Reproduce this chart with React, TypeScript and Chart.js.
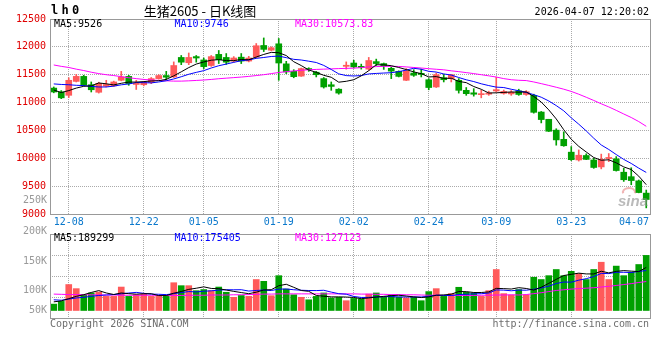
import React, { useEffect, useRef } from 'react';
import { Chart, registerables } from 'chart.js';

Chart.register(...registerables);

// ---------- data ----------
const DATES = [
  '12-04', '12-05', '12-08', '12-09', '12-10', '12-11', '12-12', '12-15', '12-16', '12-17',
  '12-18', '12-19', '12-22', '12-23', '12-24', '12-25', '12-26', '12-29', '12-30', '12-31',
  '01-05', '01-06', '01-07', '01-08', '01-09', '01-12', '01-13', '01-14', '01-15', '01-16',
  '01-19', '01-20', '01-21', '01-22', '01-23', '01-26', '01-27', '01-28', '01-29', '01-30',
  '02-02', '02-03', '02-04', '02-05', '02-06', '02-09', '02-10', '02-11', '02-12', '02-13',
  '02-24', '02-25', '02-26', '02-27', '03-02', '03-03', '03-04', '03-05', '03-06', '03-09',
  '03-10', '03-11', '03-12', '03-13', '03-16', '03-17', '03-18', '03-19', '03-20', '03-23',
  '03-24', '03-25', '03-26', '03-27', '03-30', '03-31', '04-01', '04-02', '04-03', '04-07',
];

const OPEN = [
  11260, 11190, 11130, 11380, 11470, 11320, 11185, 11295, 11300, 11400,
  11470, 11325, 11320, 11360, 11430, 11485, 11460, 11810, 11715, 11825,
  11765, 11665, 11865, 11810, 11745, 11815, 11745, 11815, 12025, 11940,
  12055, 11695, 11560, 11475, 11610, 11545, 11430, 11320, 11240, 11650,
  11710, 11650, 11600, 11735, 11700, 11615, 11560, 11400, 11530, 11525,
  11410, 11280, 11445, 11430, 11400, 11220, 11175, 11142, 11150, 11208,
  11165, 11155, 11210, 11145, 11130, 10830, 10700, 10505, 10340, 10110,
  9970, 10050, 9970, 9845, 9995, 9990, 9750, 9670, 9595, 9375,
];
const HIGH = [
  11280, 11215, 11445, 11505, 11490, 11370, 11365, 11400, 11385, 11560,
  11490, 11400, 11380, 11450, 11500, 11560, 11730, 11845, 11890, 11845,
  11800, 11845, 11935, 11880, 11825, 11880, 11830, 12060, 12160, 12000,
  12150, 11740, 11590, 11620, 11625, 11560, 11450, 11370, 11250, 11730,
  11760, 11690, 11810, 11780, 11710, 11635, 11570, 11610, 11590, 11600,
  11430, 11530, 11505, 11505, 11430, 11270, 11250, 11220, 11205, 11458,
  11225, 11215, 11240, 11215, 11150, 10840, 10700, 10530, 10475, 10210,
  10150, 10080, 10000, 10075, 10085, 10030, 9820, 9830, 9610, 9430,
];
const LOW = [
  11175, 11070, 11090, 11370, 11300, 11190, 11170, 11280, 11290, 11390,
  11310, 11235, 11300, 11340, 11420, 11410, 11450, 11680, 11680, 11725,
  11610, 11650, 11700, 11685, 11730, 11700, 11730, 11800, 11915, 11930,
  11400, 11520, 11445, 11470, 11560, 11460, 11260, 11220, 11150, 11600,
  11620, 11600, 11580, 11665, 11595, 11430, 11460, 11395, 11470, 11460,
  11230, 11270, 11370, 11370, 11170, 11130, 11115, 11085, 11130, 11190,
  11150, 11130, 11130, 11130, 10810, 10635, 10480, 10235, 10215, 9960,
  9950, 9975, 9820, 9810, 9940, 9770, 9585, 9525, 9380, 9110,
];
const CLOSE = [
  11190, 11085, 11400, 11470, 11315, 11230, 11345, 11325, 11370, 11460,
  11340, 11345, 11365, 11430, 11485, 11455, 11665, 11725, 11810, 11800,
  11645, 11825, 11770, 11725, 11800, 11745, 11800, 12020, 11955, 11985,
  11710, 11550, 11465, 11610, 11590, 11500, 11280, 11290, 11170, 11670,
  11640, 11630, 11755, 11700, 11660, 11565, 11470, 11565, 11490, 11505,
  11270, 11500, 11410, 11500, 11220, 11160, 11150, 11160, 11172, 11232,
  11200, 11185, 11145, 11195, 10825, 10695, 10485, 10330, 10225, 9975,
  10055, 9980, 9835, 9980, 10015, 9780, 9615, 9600, 9385, 9260,
];

const MA5 = [
  11225, 11180, 11215, 11260, 11292, 11300, 11352, 11337, 11317, 11346,
  11368, 11368, 11376, 11388, 11393, 11416, 11480, 11552, 11628, 11691,
  11729, 11761, 11770, 11753, 11753, 11773, 11768, 11818, 11864, 11901,
  11894, 11844, 11733, 11664, 11585, 11543, 11489, 11454, 11366, 11382,
  11410, 11480, 11573, 11679, 11677, 11662, 11630, 11592, 11550, 11519,
  11460, 11466, 11435, 11437, 11380, 11358, 11288, 11238, 11172, 11175,
  11183, 11190, 11187, 11191, 11110, 11009, 10869, 10706, 10512, 10342,
  10214, 10113, 10014, 9965, 9973, 9918, 9845, 9798, 9679, 9526,
];
const MA10 = [
  11335, 11325, 11320, 11310, 11305, 11290, 11280, 11280, 11295, 11319,
  11334, 11360, 11357, 11353, 11370, 11392, 11424, 11464, 11508, 11542,
  11573, 11621, 11661, 11691, 11722, 11751, 11765, 11794, 11809, 11827,
  11834, 11806, 11776, 11764, 11743, 11719, 11667, 11594, 11515, 11484,
  11477, 11485, 11514, 11523, 11530, 11536, 11555, 11583, 11615, 11598,
  11561, 11548, 11514, 11494, 11450, 11409, 11377, 11337, 11305, 11277,
  11270, 11239, 11212, 11182, 11142, 11096, 11029, 10946, 10852, 10726,
  10612, 10491, 10360, 10239, 10158, 10067, 9980, 9907, 9823, 9746,
];
const MA30 = [
  11675, 11650, 11630, 11600, 11575, 11545, 11520, 11500, 11485, 11465,
  11445, 11430, 11415, 11405, 11398, 11390, 11385, 11385, 11390, 11397,
  11405, 11415, 11428, 11438, 11448, 11458, 11470, 11485, 11500, 11520,
  11540, 11555, 11568, 11580, 11588, 11595, 11600, 11605, 11610, 11614,
  11618, 11628, 11640, 11646, 11650, 11651, 11648, 11640, 11630, 11620,
  11608, 11598, 11588, 11570, 11555, 11538, 11520, 11500, 11480, 11458,
  11430, 11410, 11400, 11395, 11370, 11340, 11308, 11275, 11240, 11200,
  11150, 11095, 11038, 10978, 10922, 10860, 10795, 10732, 10659, 10574,
];

// volume, in thousands of lots
const VOLUME_K = [
  28, 40, 114, 96, 69, 77, 81, 62, 62, 103,
  62, 69, 72, 62, 62, 62, 122, 109, 109, 87,
  92, 87, 103, 80, 58, 66, 62, 136, 128, 65,
  153, 94, 69, 58, 47, 62, 77, 55, 58, 43,
  53, 50, 72, 77, 58, 69, 59, 55, 58, 43,
  83, 96, 62, 74, 102, 80, 77, 62, 87, 180,
  74, 68, 92, 69, 146, 136, 153, 180, 153, 172,
  162, 136, 180, 212, 136, 195, 153, 168, 202, 242,
];
const VOL_MA5_K = [
  38, 42, 52, 62, 69.4, 79.2, 87.4, 77, 70.2, 77,
  74, 71.6, 73.6, 73.6, 65.4, 65.4, 76, 83.4, 92.8, 97.8,
  103.8, 96.8, 95.6, 89.8, 84, 78.8, 73.8, 80.4, 90, 91.4,
  108.8, 115.2, 101.8, 87.8, 84.2, 66, 62.6, 59.8, 59.8, 59,
  57.2, 51.8, 55.2, 59, 62, 65.2, 67, 63.6, 59.8, 56.8,
  59.6, 67, 68.4, 71.6, 83.4, 82.8, 79, 79, 81.6, 97.2,
  96, 94.2, 100.2, 96.6, 89.8, 102.2, 119.2, 136.8, 153.6, 158.8,
  164, 160.6, 160.6, 172.4, 165.2, 171.8, 175.2, 172.8, 170.8, 189.3,
];
const VOL_MA10_K = [
  47, 45, 50, 55, 58, 62, 66, 68, 70, 73.2,
  76.6, 79.5, 75.3, 71.9, 71.2, 69.7, 73.8, 78.5, 83.2, 81.6,
  84.6, 86.4, 89.5, 91.3, 90.9, 91.3, 85.3, 88, 89.9, 87.7,
  93.8, 94.5, 91.1, 88.9, 87.8, 87.4, 88.9, 80.8, 73.8, 71.6,
  61.6, 57.2, 57.5, 59.4, 60.5, 61.2, 59.4, 59.4, 59.4, 59.4,
  62.4, 67, 66, 65.7, 70.1, 71.2, 73, 73.7, 76.6, 90.3,
  89.4, 86.6, 89.6, 89.1, 93.5, 99.1, 106.7, 118.5, 125.1, 124.3,
  133.1, 139.9, 148.7, 163, 162, 167.9, 167.9, 166.7, 171.6, 175.4,
];
const VOL_MA30_K = [
  72, 71, 70, 70, 69, 69, 68, 68, 68, 67,
  67, 67, 67, 67, 66, 66, 66, 66, 67, 67,
  67, 68, 68, 68, 69, 69, 70, 71, 72, 72,
  73, 73, 73, 73, 73, 73, 73, 73, 73, 73,
  73, 72, 72, 71, 71, 70, 70, 69, 69, 68,
  67, 67, 66, 66, 66, 66, 66, 67, 67, 68,
  68, 69, 68, 70, 74, 78, 83, 88, 91, 94,
  96, 98, 100, 103, 106, 110, 114, 118, 123, 127.1,
];

const TICK_DATES = ['12-08', '12-22', '01-05', '01-19', '02-02', '02-24', '03-09', '03-23', '04-07'];
const PRICE_MIN = 9000;
const PRICE_MAX = 12500;
const PRICE_STEP = 500;
const VOL_MIN_K = -33;
const VOL_MAX_K = 336;
const VOL_AXIS_LABELS = ['250K', '200K', '150K', '100K', '50K'];

const SYMBOL = 'lh0';
const TITLE = '生猪2605 - 日K线图';
const TIMESTAMP = '2026-04-07 12:20:02';
const PRICE_MA_LABELS = ['MA5:9526', 'MA10:9746', 'MA30:10573.83'];
const VOL_MA_LABELS = ['MA5:189299', 'MA10:175405', 'MA30:127123'];
const COPYRIGHT = 'Copyright 2026 SINA.COM';
const SITE = 'http://finance.sina.com.cn';

// ---------- styles ----------
const UP = '#ff5a5a';
const DOWN = '#00a000';
const MA_COLORS = ['#000000', '#0000ff', '#ff00ff'];
const GRID = '#aaaaaa';
const FRAME = '#999999';
const PRICE_TXT = '#e00000';
const DATE_TXT = '#0a78cc';
const VOL_TXT = '#999999';
const FOOT_TXT = '#6e6e6e';
const MONO = "'DejaVu Sans Mono', 'Liberation Mono', monospace";
const CJK = "'Noto Sans CJK SC', 'Noto Sans', sans-serif";

const TICK_IDX = TICK_DATES.map((d) => DATES.indexOf(d));
const LAST_IDX = DATES.length - 1;

const candleColor = (ctx: any) => {
  const i = ctx.dataIndex;
  return CLOSE[i] >= OPEN[i] ? UP : DOWN;
};
const pts = (arr: number[]) => arr.map((v, i) => ({ x: i + 0.5, y: v }));
const gridColorX = (ctx: any) => (ctx.tick && ctx.tick.value > LAST_IDX ? 'rgba(0,0,0,0)' : GRID);

const xScale = (height: number) => ({
  type: 'linear',
  min: 0,
  max: DATES.length,
  offset: false,
  grid: { offset: false, color: gridColorX, drawTicks: false, lineWidth: 1 },
  border: { display: false, dash: [1, 1] },
  ticks: { display: false },
  afterBuildTicks: (s: any) => {
    s.ticks = TICK_IDX.map((i) => ({ value: i + 0.5 }));
  },
  afterFit: (s: any) => {
    s.height = height;
  },
});

const drawFrame = (ctx: any, a: any) => {
  const l = Math.round(a.left), t = Math.round(a.top), r = Math.round(a.right), b = Math.round(a.bottom);
  ctx.save();
  ctx.setLineDash([]);
  ctx.strokeStyle = FRAME;
  ctx.lineWidth = 1;
  ctx.strokeRect(l + 0.5, t + 0.5, r - l, b - t);
  ctx.restore();
};

const drawMaLabels = (ctx: any, a: any, labels: string[], y: number) => {
  ctx.font = `10px ${MONO}`;
  ctx.textAlign = 'left';
  ctx.textBaseline = 'middle';
  labels.forEach((t, k) => {
    ctx.fillStyle = MA_COLORS[k];
    ctx.fillText(t, a.left + 4 + k * 120.5, y);
  });
};

const priceDecor = {
  id: 'priceDecor',
  afterDraw(chart: any) {
    const { ctx, chartArea: a } = chart;
    const xs = chart.scales.x;
    drawFrame(ctx, a);
    ctx.save();
    // date labels
    ctx.font = `10px ${MONO}`;
    ctx.fillStyle = DATE_TXT;
    ctx.textBaseline = 'middle';
    ctx.textAlign = 'left';
    xs.ticks.forEach((t: any) => {
      const label = DATES[Math.floor(t.value)];
      const w = ctx.measureText(label).width;
      let left = xs.getPixelForValue(t.value) - w / 2;
      if (left + w > a.right - 1) left = a.right - 1 - w;
      ctx.fillText(label, left, a.bottom + 8);
    });
    // header
    ctx.fillStyle = '#000';
    ctx.font = `bold 12px ${MONO}`;
    if ('letterSpacing' in ctx) ctx.letterSpacing = '3.3px';
    ctx.fillText(SYMBOL, a.left + 1, 11);
    if ('letterSpacing' in ctx) ctx.letterSpacing = '0px';
    ctx.font = `13px ${CJK}`;
    ctx.textAlign = 'center';
    ctx.fillText(TITLE, 200, 11);
    ctx.font = `10px ${MONO}`;
    ctx.textAlign = 'right';
    ctx.fillText(TIMESTAMP, a.right - 1, 12);
    drawMaLabels(ctx, a, PRICE_MA_LABELS, a.top + 5);
    // watermark
    ctx.textAlign = 'left';
    ctx.textBaseline = 'alphabetic';
    ctx.strokeStyle = 'rgba(225,90,90,0.45)';
    ctx.lineWidth = 2;
    ctx.beginPath();
    ctx.ellipse(a.right - 21, a.bottom - 22, 6, 4, 0, Math.PI * 0.9, Math.PI * 2.1);
    ctx.stroke();
    ctx.fillStyle = 'rgba(140,140,140,0.6)';
    ctx.font = "italic bold 15px 'Liberation Sans', sans-serif";
    ctx.fillText('sina', a.right - 32, a.bottom - 8);
    ctx.restore();
  },
};

const VOL_LABEL_Y = [10, 41, 71, 100, 120];

const volDecor = {
  id: 'volDecor',
  afterDraw(chart: any) {
    const { ctx, chartArea: a } = chart;
    drawFrame(ctx, a);
    ctx.save();
    ctx.font = `10px ${MONO}`;
    ctx.textBaseline = 'middle';
    ctx.textAlign = 'right';
    ctx.fillStyle = VOL_TXT;
    VOL_AXIS_LABELS.forEach((t, k) => ctx.fillText(t, a.left - 3, VOL_LABEL_Y[k]));
    drawMaLabels(ctx, a, VOL_MA_LABELS, a.top + 4);
    ctx.fillStyle = FOOT_TXT;
    ctx.textAlign = 'left';
    ctx.fillText(COPYRIGHT, a.left, a.bottom + 6);
    ctx.textAlign = 'right';
    ctx.fillText(SITE, a.right - 1, a.bottom + 6);
    ctx.restore();
  },
};

const lineDs = (data: number[], k: number) => ({
  type: 'line',
  data: pts(data),
  borderColor: MA_COLORS[k],
  borderWidth: 1,
  pointRadius: 0,
  tension: 0,
  order: 0,
});

export default function App() {
  const priceRef = useRef<HTMLCanvasElement>(null);
  const volRef = useRef<HTMLCanvasElement>(null);

  useEffect(() => {
    document.body.style.margin = '0';
    const common = {
      responsive: false,
      maintainAspectRatio: false,
      devicePixelRatio: 1,
      animation: false,
      events: [],
    };
    const priceChart = new Chart(priceRef.current as HTMLCanvasElement, {
      type: 'bar',
      data: {
        datasets: [
          lineDs(MA5, 0),
          lineDs(MA10, 1),
          lineDs(MA30, 2),
          {
            type: 'bar',
            data: OPEN.map((o, i) => ({ x: i + 0.5, y: [o, CLOSE[i]] })),
            backgroundColor: candleColor,
            barThickness: 6,
            minBarLength: 1,
            grouped: false,
            borderWidth: 0,
            order: 1,
          },
          {
            type: 'bar',
            data: LOW.map((l, i) => ({ x: i + 0.5, y: [l, HIGH[i]] })),
            backgroundColor: candleColor,
            barThickness: 1,
            grouped: false,
            borderWidth: 0,
            order: 2,
          },
        ] as any,
      },
      options: {
        ...common,
        layout: { padding: { top: 19, right: 10, left: 0, bottom: 0 } },
        plugins: { legend: { display: false }, tooltip: { enabled: false } },
        scales: {
          x: xScale(18) as any,
          y: {
            type: 'linear',
            min: PRICE_MIN,
            max: PRICE_MAX,
            grid: { color: GRID, drawTicks: false },
            border: { display: false, dash: [1, 1] },
            ticks: {
              stepSize: PRICE_STEP,
              color: PRICE_TXT,
              font: { family: MONO, size: 10 },
              padding: 4,
              callback: (v: any) => String(v),
            },
            afterFit: (s: any) => {
              s.width = 50;
            },
          },
        },
      } as any,
      plugins: [priceDecor],
    });

    const volChart = new Chart(volRef.current as HTMLCanvasElement, {
      type: 'bar',
      data: {
        datasets: [
          lineDs(VOL_MA5_K, 0),
          lineDs(VOL_MA10_K, 1),
          lineDs(VOL_MA30_K, 2),
          {
            type: 'bar',
            data: VOLUME_K.map((v, i) => ({ x: i + 0.5, y: v })),
            backgroundColor: candleColor,
            barThickness: 6,
            grouped: false,
            borderWidth: 0,
            order: 1,
          },
        ] as any,
      },
      options: {
        ...common,
        layout: { padding: { top: 44, right: 10, left: 0, bottom: 0 } },
        plugins: { legend: { display: false }, tooltip: { enabled: false } },
        scales: {
          x: xScale(42) as any,
          y: {
            type: 'linear',
            min: VOL_MIN_K,
            max: VOL_MAX_K,
            grid: { color: GRID, drawTicks: false },
            border: { display: false, dash: [1, 1] },
            ticks: { display: false },
            afterBuildTicks: (s: any) => {
              const span = s.max - s.min;
              s.ticks = [0.25, 0.5, 0.75].map((q) => ({ value: s.min + span * q }));
            },
            afterFit: (s: any) => {
              s.width = 50;
            },
          },
        },
      } as any,
      plugins: [volDecor],
    });

    return () => {
      priceChart.destroy();
      volChart.destroy();
    };
  }, []);

  return (
    <div style={{ position: 'fixed', left: 0, top: 0, width: 660, height: 360, background: '#ffffff' }}>
      <canvas ref={priceRef} width={660} height={232} style={{ position: 'absolute', left: 0, top: 0 }} />
      <canvas ref={volRef} width={660} height={170} style={{ position: 'absolute', left: 0, top: 190 }} />
    </div>
  );
}
